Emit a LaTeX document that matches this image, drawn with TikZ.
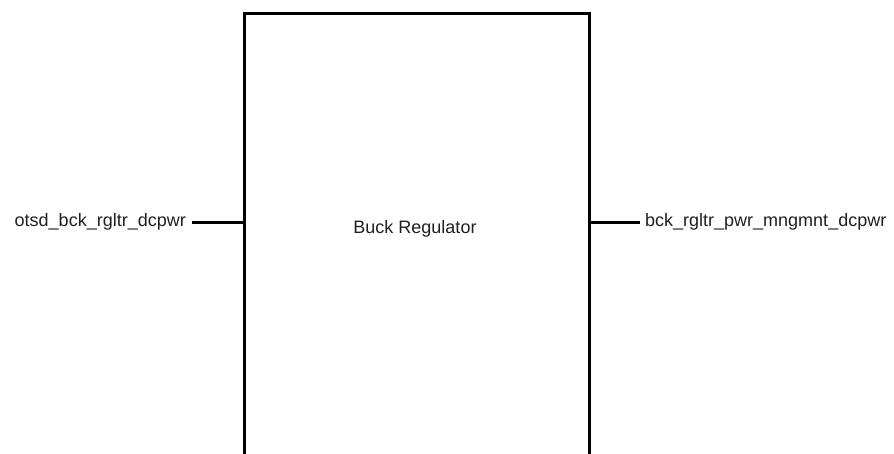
\documentclass[tikz,border=0pt]{standalone}
\usepackage{fontspec}
\setmainfont{Liberation Sans}
\begin{document}
\begin{tikzpicture}[x=1pt,y=-1pt,
  blockbox/.style={draw=black,line width=3pt,minimum width=345pt,minimum height=600pt,inner sep=0pt},
  lbl/.style={font=\fontsize{18}{20}\selectfont,text=black!88,inner sep=0pt},
  wire/.style={line width=3pt,draw=black}]
\useasboundingbox (0,0) rectangle (894,453);
\node[blockbox,anchor=north west] (box) at (243,12) {};
\node[lbl] (title) at (415,229) {Buck Regulator};
\node[lbl,anchor=east] (inlbl) at (186,222) {otsd\_bck\_rgltr\_dcpwr};
\node[lbl,anchor=west] (outlbl) at (645,222) {bck\_rgltr\_pwr\_mngmnt\_dcpwr};
\coordinate (inend) at (192,222);
\coordinate (outend) at (640,222);
\draw[wire] (inend) -- (inend -| box.west);
\draw[wire] (outend -| box.east) -- (outend);
\end{tikzpicture}
\end{document}
